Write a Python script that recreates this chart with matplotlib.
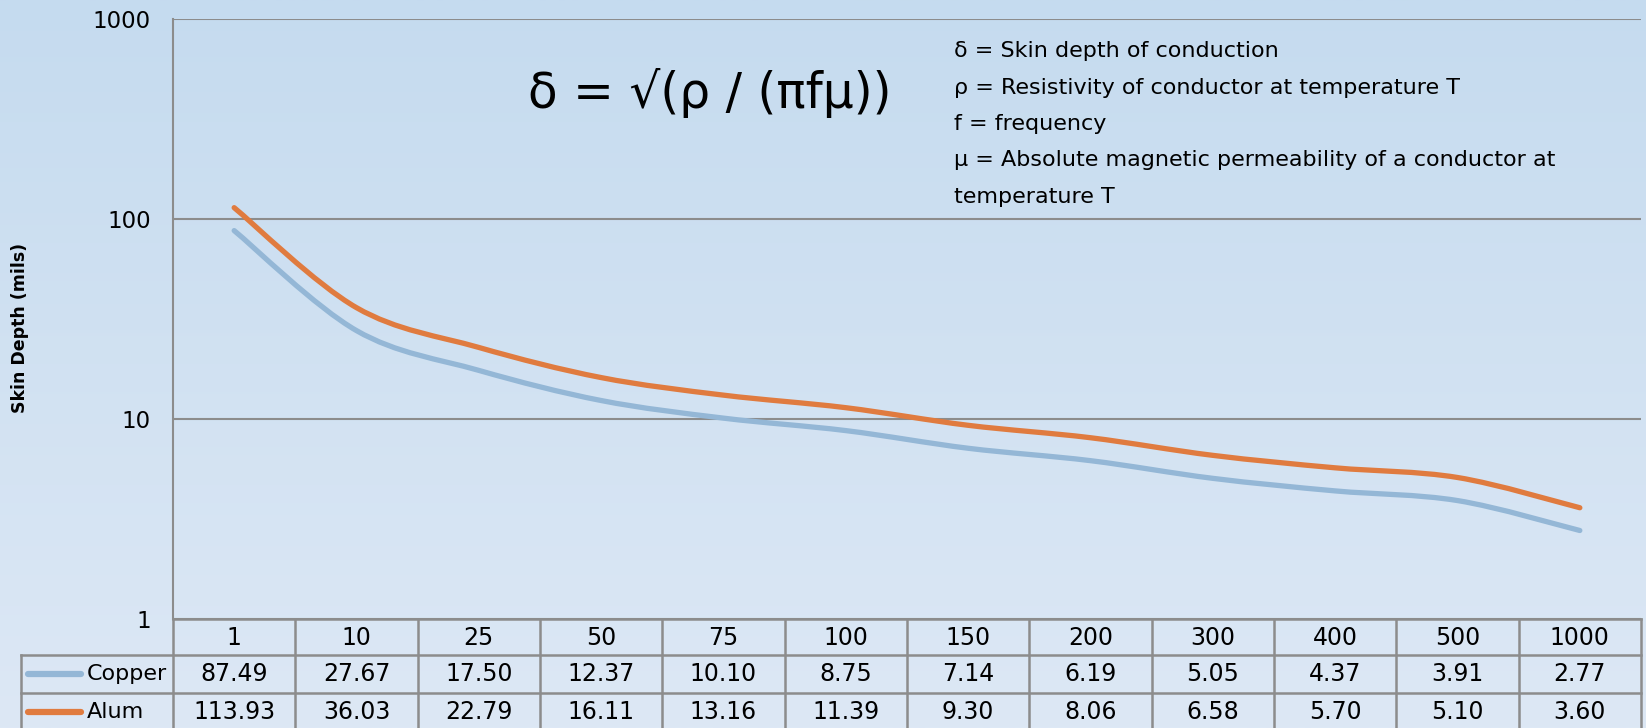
import numpy as np
import matplotlib
matplotlib.use("Agg")
import matplotlib.pyplot as plt
from matplotlib.path import Path
from matplotlib.patches import PathPatch
from matplotlib.lines import Line2D
from matplotlib.ticker import NullLocator
import matplotlib.transforms as mtransforms

# ---- data ----
frequencies = ["1", "10", "25", "50", "75", "100", "150", "200", "300", "400", "500", "1000"]
copper = [87.49, 27.67, 17.50, 12.37, 10.10, 8.75, 7.14, 6.19, 5.05, 4.37, 3.91, 2.77]
alum = [113.93, 36.03, 22.79, 16.11, 13.16, 11.39, 9.30, 8.06, 6.58, 5.70, 5.10, 3.60]
series_names = ["Copper", "Alum"]
series_values = [copper, alum]
series_colors = ["#94b7d6", "#e07b3f"]
y_ticks = [1, 10, 100, 1000]
y_ticklabels = ["1", "10", "100", "1000"]
y_label = "Skin Depth (mils)"
formula = "δ = √(ρ / (πfμ))"
notes = ["δ = Skin depth of conduction",
         "ρ = Resistivity of conductor at temperature T",
         "f = frequency",
         "μ = Absolute magnetic permeability of a conductor at",
         "temperature T"]

plt.rcParams['font.family'] = ['DejaVu Sans']

W, H = 1646, 728
fig = plt.figure(figsize=(W / 100, H / 100), dpi=100)

# background gradient
bg = fig.add_axes([0, 0, 1, 1], zorder=-10)
g = np.linspace(0, 1, 256)[:, None, None]
top = np.array([197, 219, 239]) / 255
bot = np.array([221, 232, 245]) / 255
img = top + (bot - top) * g
bg.imshow(img, aspect='auto', extent=[0, 1, 0, 1])
bg.axis('off')

L, R = 173 / W, 1641 / W
B, T = 1 - 619 / H, 1 - 19 / H
ax = fig.add_axes([L, B, R - L, T - B])
ax.patch.set_alpha(0)
ax.set_yscale('log')
ax.set_ylim(1, 1000)
n = len(frequencies)
ax.set_xlim(-0.5, n - 0.5)
ax.set_xticks([])
ax.set_yticks(y_ticks)
ax.set_yticklabels(y_ticklabels)
ax.yaxis.set_minor_locator(NullLocator())
ax.tick_params(axis='y', length=0, pad=16, labelsize=16.5)
for s in ['top', 'right', 'bottom']:
    ax.spines[s].set_visible(False)
ax.spines['left'].set_color('#8c8c8c')
ax.spines['left'].set_linewidth(1.5)
ax.yaxis.grid(True, color='#8c8c8c', lw=1.5)
ax.set_axisbelow(True)


def smooth_path(xs, ys):
    px = np.asarray(xs, float)
    py = np.log10(np.asarray(ys, float))
    pts = np.column_stack([px, py])
    verts = [pts[0]]
    codes = [Path.MOVETO]
    m = len(pts)
    for i in range(m - 1):
        p0 = pts[i - 1] if i > 0 else pts[i]
        p1 = pts[i]
        p2 = pts[i + 1]
        p3 = pts[i + 2] if i + 2 < m else pts[i + 1]
        c1 = p1 + (p2 - p0) / 6
        c2 = p2 - (p3 - p1) / 6
        verts += [c1, c2, p2]
        codes += [Path.CURVE4] * 3
    verts = np.array(verts)
    verts[:, 1] = 10 ** verts[:, 1]
    return Path(verts, codes)


xs = np.arange(n)
for vals, col in zip(series_values, series_colors):
    patch = PathPatch(smooth_path(xs, vals), fill=False, edgecolor=col, lw=3.8,
                      capstyle='round', joinstyle='round', transform=ax.transData, zorder=3)
    ax.add_patch(patch)

# ---- data table ----
bt = mtransforms.blended_transform_factory(ax.transData, fig.transFigure)
ft = fig.transFigure
lc = '#8c8c8c'
lw = 1.8


def fy(py):
    return 1 - py / H


row_edges = [619, 655, 693, 731]
fig.add_artist(Line2D([L, R], [fy(619), fy(619)], color=lc, lw=lw, transform=ft))
for yy in row_edges[1:3]:
    fig.add_artist(Line2D([21 / W, R], [fy(yy), fy(yy)], color=lc, lw=lw, transform=ft))
for i in range(n + 1):
    fig.add_artist(Line2D([i - 0.5, i - 0.5], [fy(619), fy(731)], color=lc, lw=lw, transform=bt))
fig.add_artist(Line2D([21 / W, 21 / W], [fy(655), fy(731)], color=lc, lw=lw, transform=ft))

fs = 17
for i, f in enumerate(frequencies):
    fig.text(i, fy(638), f, transform=bt, ha='center', va='center', fontsize=fs)
for r, (name, vals, col) in enumerate(zip(series_names, series_values, series_colors)):
    yc = fy((row_edges[r + 1] + row_edges[r + 2]) / 2)
    for i, v in enumerate(vals):
        fig.text(i, yc, f"{v:.2f}", transform=bt, ha='center', va='center', fontsize=fs)
    fig.add_artist(Line2D([28 / W, 81 / W], [yc, yc], color=col, lw=4.5,
                          solid_capstyle='round', transform=ft))
    fig.text(87 / W, yc, name, ha='left', va='center', fontsize=16)

# ---- texts ----
fig.text(20 / W, fy(328), y_label, rotation=90, fontweight='bold', fontsize=12.5,
         ha='center', va='center')
fig.text(710 / W, fy(93), formula, fontsize=35, ha='center', va='center')
for k, line in enumerate(notes):
    fig.text(954 / W, fy(51 + k * 36.5), line, fontsize=16, ha='left', va='center')

fig.savefig("out.png", dpi=100)
